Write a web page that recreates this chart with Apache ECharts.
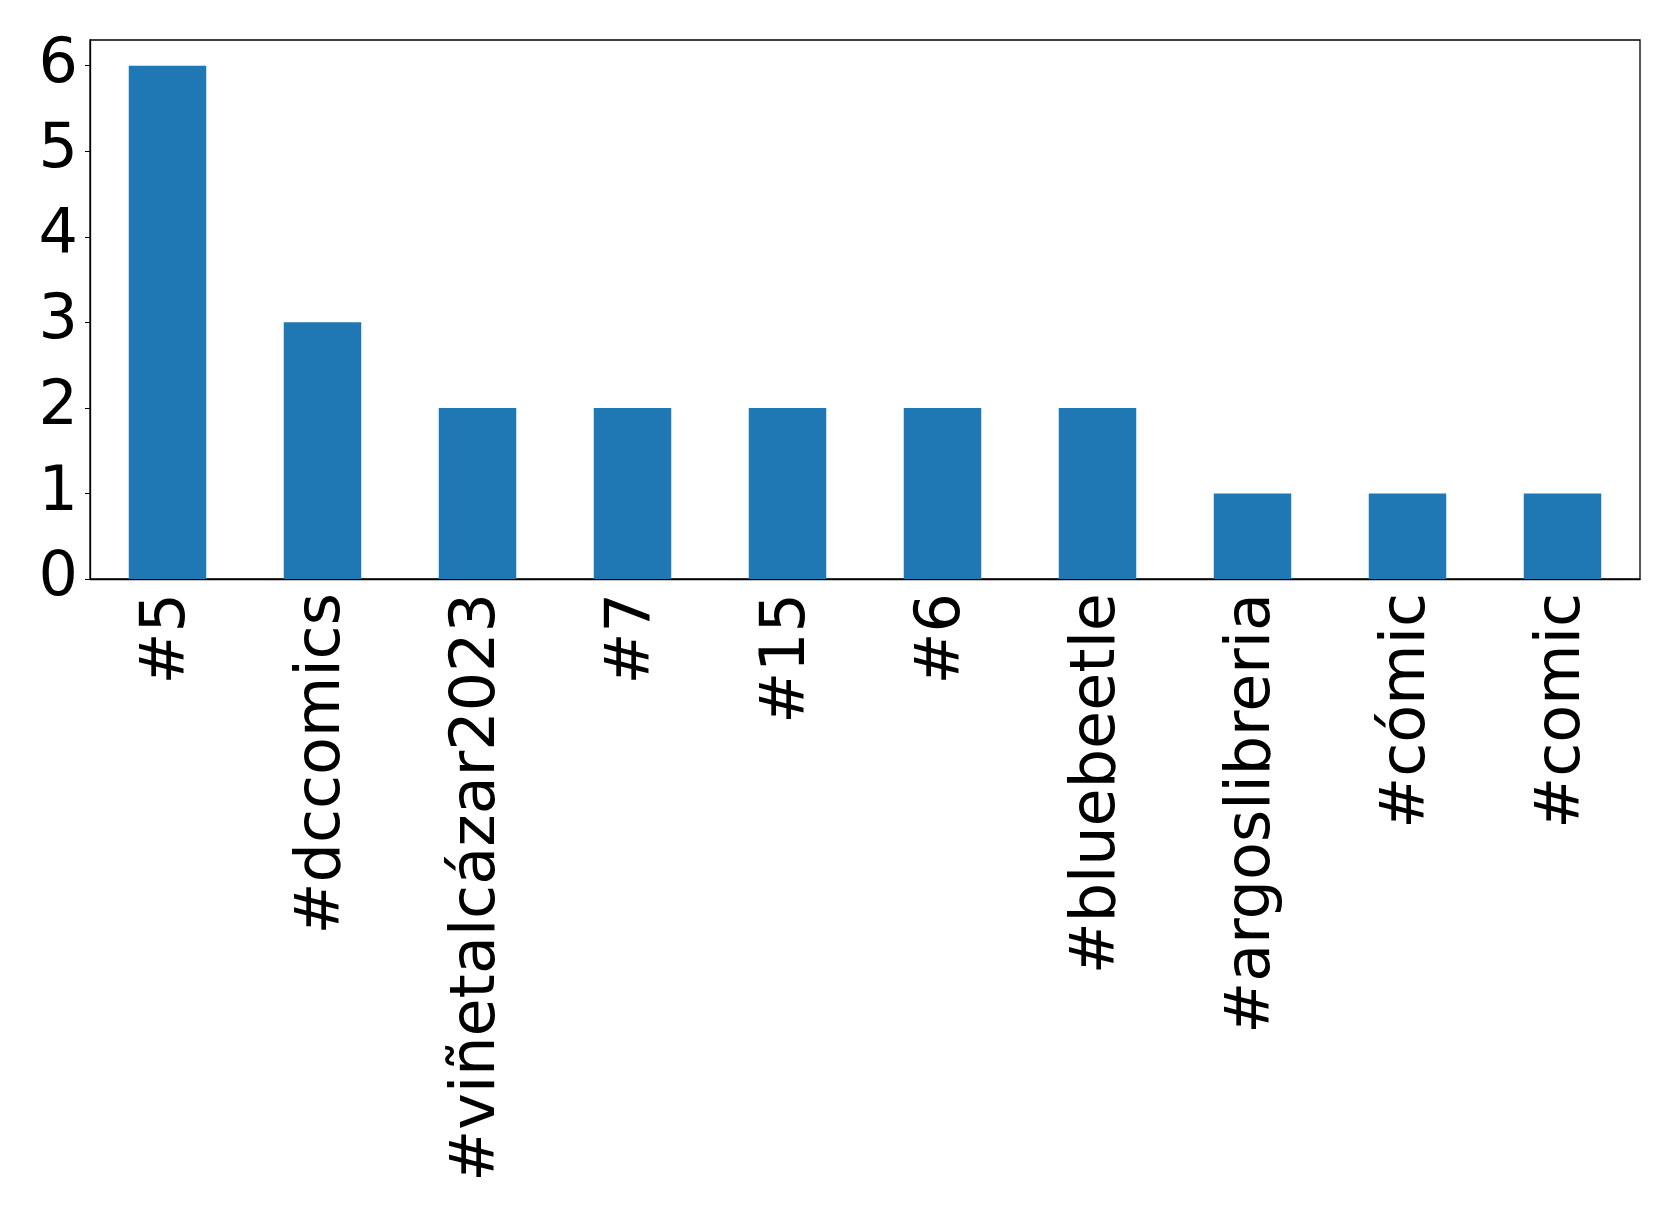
<!DOCTYPE html>
<html><head><meta charset="utf-8">
<script src="https://cdn.jsdelivr.net/npm/echarts@6/dist/echarts.min.js"></script>
<style>html,body{margin:0;padding:0;background:#fff}#c{width:1679px;height:1222px}</style>
</head><body><div id="c"></div>
<script>
const categories = ['#5','#dccomics','#viñetalcázar2023','#7','#15','#6','#bluebeetle','#argoslibreria','#cómic','#comic'];
const values = [6,3,2,2,2,2,2,1,1,1];
const yTicks = [0,1,2,3,4,5,6];
const FS = 62;
const chart = echarts.init(document.getElementById('c'));
chart.setOption({
  animation:false,
  grid:{left:90, top:40, width:1550, height:539, show:true, borderColor:'#000', borderWidth:1.3, backgroundColor:'transparent'},
  xAxis:{type:'category', data:categories,
    axisLine:{lineStyle:{color:'#000',width:1.3}},
    axisTick:{alignWithLabel:true, length:5, lineStyle:{color:'#000'}},
    axisLabel:{rotate:90, interval:0, margin:14, color:'#000', fontFamily:'DejaVu Sans', fontSize:FS}},
  yAxis:{type:'value', min:0, max:6.3, interval:1,
    splitLine:{show:false},
    axisLine:{show:true, lineStyle:{color:'#000',width:1.3}},
    axisTick:{show:true, length:5, customValues:yTicks, lineStyle:{color:'#000'}},
    axisLabel:{margin:12, customValues:yTicks, color:'#000', fontFamily:'DejaVu Sans', fontSize:FS}},
  series:[{type:'bar', data:values, barWidth:'50%', itemStyle:{color:'#1f77b4'}}]
});
</script></body></html>
